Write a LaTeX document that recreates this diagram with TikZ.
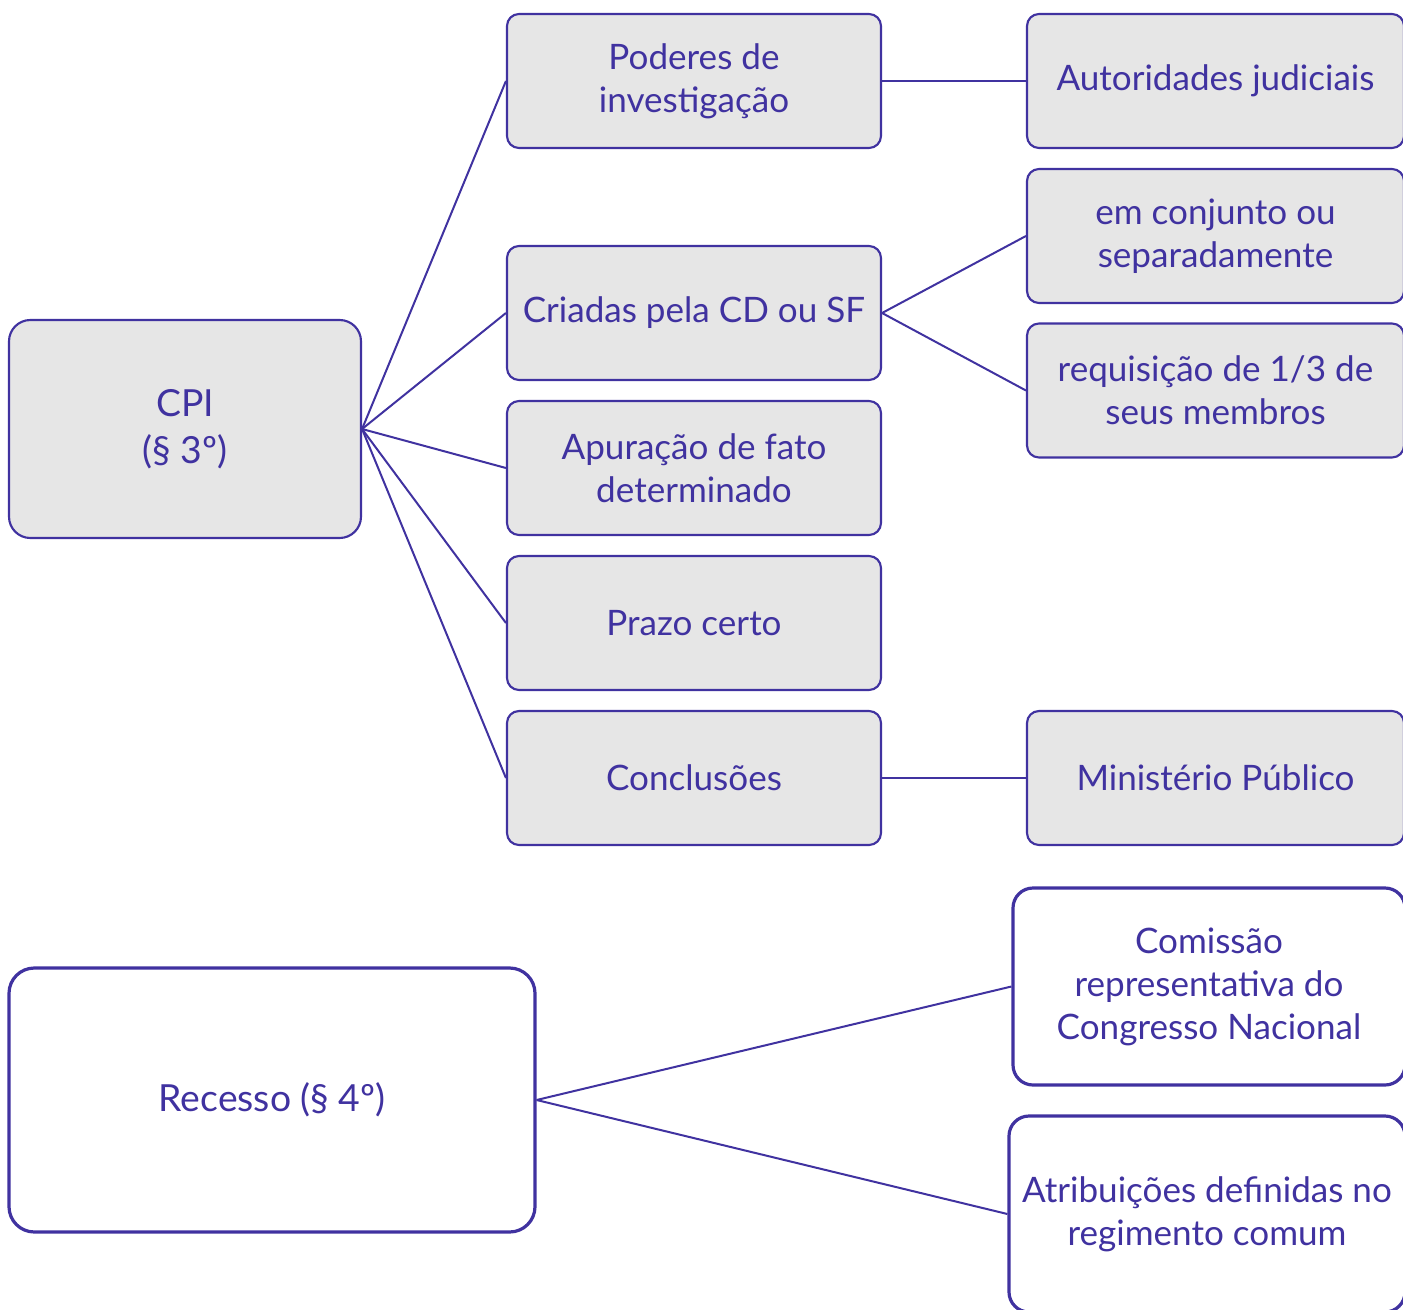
\documentclass[tikz,border=0pt]{standalone}
\usepackage{fontspec}
\setmainfont{Lato}
\definecolor{ink}{RGB}{64,50,160}
\definecolor{boxfill}{RGB}{230,230,230}
\tikzset{
  gbox/.style={draw=ink, line width=1.6pt, fill=boxfill, rounded corners=9pt, text=ink,
    align=center, inner sep=0pt, font=\fontsize{26.3}{32.3}\selectfont,
    minimum width=280.5pt, minimum height=100.5pt},
  rbox/.style={gbox, minimum width=282.75pt},
  wbox/.style={draw=ink, line width=2.4pt, fill=white, rounded corners=15pt, text=ink,
    align=center, inner sep=0pt, font=\fontsize{26.3}{32.3}\selectfont},
  link/.style={draw=ink, line width=1.5pt},
}
\begin{document}
\begin{tikzpicture}[x=0.75pt,y=-0.75pt]
\useasboundingbox (0,0) rectangle (1403,1310);
\clip (0,0) rectangle (1403,1310);
% CPI
\node[gbox, rounded corners=16pt, minimum width=264pt, minimum height=163.5pt, font=\fontsize{28}{35}\selectfont] (cpi) at (185,429) {CPI\\(§ 3º)};
% middle column
\node[gbox] (pod) at (694,81) {Poderes de\\investigação};
\node[gbox] (cri) at (694,313) {Criadas pela CD ou SF};
\node[gbox] (apu) at (694,468) {Apuração de fato\\determinado};
\node[gbox] (pra) at (694,623) {Prazo certo};
\node[gbox] (con) at (694,778) {Conclusões};
% right column
\node[rbox] (aut) at (1215.5,81) {Autoridades judiciais};
\node[rbox] (emc) at (1215.5,236) {em conjunto ou\\separadamente};
\node[rbox] (req) at (1215.5,390.5) {requisição de 1/3 de\\seus membros};
\node[rbox] (min) at (1215.5,778) {Ministério Público};
% bottom
\node[wbox, rounded corners=19pt, minimum width=394.5pt, minimum height=198pt, font=\fontsize{28}{35}\selectfont] (rec) at (272,1100) {Recesso (§ 4º)};
\node[wbox, minimum width=294pt, minimum height=147.75pt] (com) at (1209,986.5) {Comissão\\representativa do\\Congresso Nacional};
\node[wbox, minimum width=297pt, minimum height=147pt] (atr) at (1207,1214) {Atribuições definidas no\\regimento comum};
% connectors
\foreach \t in {pod,cri,apu,pra,con} \draw[link] (cpi.east) -- (\t.west);
\draw[link] (pod.east) -- (aut.west);
\draw[link] (cri.east) -- (emc.west);
\draw[link] (cri.east) -- (req.west);
\draw[link] (con.east) -- (min.west);
\draw[link] (rec.east) -- (com.west);
\draw[link] (rec.east) -- (atr.west);
\end{tikzpicture}
\end{document}
